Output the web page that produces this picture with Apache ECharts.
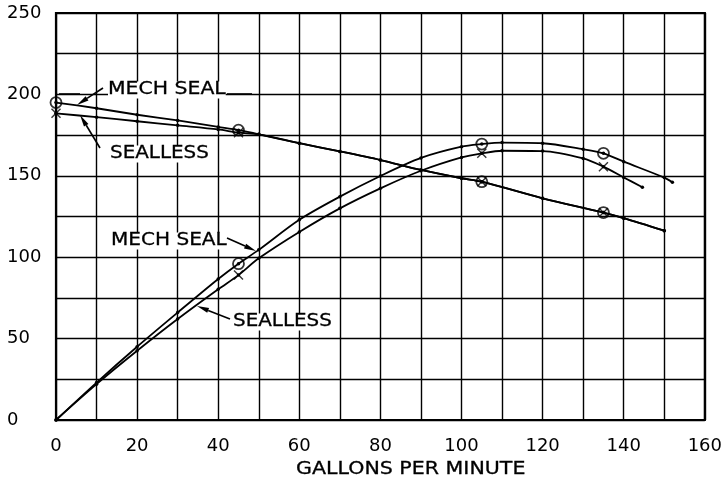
<!DOCTYPE html>
<html><head><meta charset="utf-8">
<script src="https://cdn.jsdelivr.net/npm/echarts@6/dist/echarts.min.js"></script>
<style>html,body{margin:0;padding:0;background:#fff}#c{width:725px;height:490px}</style>
</head><body><div id="c"></div>
<script>
// ---- data ----
const xLabelValues = [0, 20, 40, 60, 80, 100, 120, 140, 160];
const yLabelValues = [0, 50, 100, 150, 200, 250];
const xAxisTitle = 'GALLONS PER MINUTE';

// head curves (upper, falling)
const headMech = [[0,195],[10,191.5],[20,187.5],[30,184],[40,180],[45,178],[50,175.5],[60,170],[70,165],[80,159.7],[90,153.6],[100,148.5],[105,146.4],[120,136.2],[135,127.4],[140,124],[150,116.3]];
const headSealless = [[0,188.4],[10,186],[20,183.5],[30,181],[40,178.5],[45,176.5],[50,175.5],[60,170],[70,165],[80,159.7],[90,153.6],[100,148.5],[105,146.4],[120,136.2],[135,127.4],[140,124],[150,116.3]];
// rising curves
const effMech = [[0,0],[10,23],[20,45],[30,66],[40,86.6],[45,96],[50,104.5],[60,123],[70,137.2],[80,149.9],[90,161],[100,167.9],[105,169.5],[110,170.4],[120,170],[130,166.3],[135,163.8],[140,158.7],[150,148.9],[152,146]];
const effSealless = [[0,0],[10,22],[20,42.5],[30,62],[40,80.3],[45,89],[50,99.3],[60,115.5],[70,130],[80,142.3],[90,153.1],[100,161.3],[105,163.8],[110,165.4],[120,165.2],[130,160.7],[135,155.6],[140,149],[144.6,143]];
// test-point markers
const circlePoints = [[0,195],[45,178],[105,146.4],[135,127.4],[45,96],[105,169.5],[135,163.8]];
const crossPoints = [[0,188.4],[45,176.5],[105,146.4],[135,127.4],[45,89],[105,163.8],[135,155.6]];
const labelMech = 'MECH SEAL';
const labelSealless = 'SEALLESS';

// ---- chart ----
const FONT = '"DejaVu Sans", sans-serif';
const chart = echarts.init(document.getElementById('c'), null, {renderer: 'canvas'});
const lineStyle = {color: '#000', width: 1.8};
function lineSeries(data) {
  return {type: 'line', data, smooth: 0.3, symbol: 'circle', symbolSize: 3.5,
    itemStyle: {color: '#000'}, lineStyle, z: 3, animation: false};
}
const xPath = 'path://M0,1L1,0L5,4L9,0L10,1L6,5L10,9L9,10L5,6L1,10L0,9L4,5Z';

function arrow(x1, y1, x2, y2) {
  const dx = x2 - x1, dy = y2 - y1, L = Math.hypot(dx, dy);
  const ux = dx / L, uy = dy / L, hl = 12, hw = 2.6;
  const bx = x2 - ux * hl, by = y2 - uy * hl;
  return [
    {type: 'line', shape: {x1, y1, x2: bx, y2: by}, style: {stroke: '#000', lineWidth: 1.6}, z: 10},
    {type: 'polygon', shape: {points: [[x2, y2], [bx - uy * hw, by + ux * hw], [bx + uy * hw, by - ux * hw]]}, style: {fill: '#000'}, z: 10}
  ];
}
function label(text, x, y, sx) {
  return {type: 'text', x, y, scaleX: sx, z: 10,
    style: {text, font: '17px ' + FONT, fill: '#000', align: 'left', verticalAlign: 'middle',
      stroke: '#000', lineWidth: 0.3, backgroundColor: '#fff'}};
}
function dash(x1, x2, y) {
  return {type: 'line', shape: {x1, y1: y, x2, y2: y}, style: {stroke: '#000', lineWidth: 1.6}, z: 10};
}

const graphics = [
  label(labelMech, 108, 90, 1.2), dash(59, 80, 94), dash(227, 252, 94), ...arrow(103, 88, 77, 105),
  label(labelSealless, 110, 154, 1.17), ...arrow(100, 148, 80, 115),
  label(labelMech, 111, 241, 1.18), ...arrow(227, 238, 256, 251),
  label(labelSealless, 233, 322, 1.17), ...arrow(230, 319, 197, 306),
  {type: 'text', x: 296, y: 470, scaleX: 1.21, style: {text: xAxisTitle, font: '17px ' + FONT, fill: '#000', stroke: '#000', lineWidth: 0.3, align: 'left', verticalAlign: 'middle'}}
];

chart.setOption({
  animation: false,
  backgroundColor: '#fff',
  grid: {left: 56, right: 20, top: 13, bottom: 70, show: true, borderColor: '#000', borderWidth: 2.2, backgroundColor: 'transparent'},
  xAxis: {type: 'value', min: 0, max: 160, interval: 10,
    axisLine: {show: false}, axisTick: {show: false},
    splitLine: {show: true, lineStyle: {color: '#000', width: 1.4}},
    axisLabel: {margin: 17, color: '#000', fontFamily: FONT, fontSize: 18,
      formatter: v => xLabelValues.includes(v) ? String(v) : ''}},
  yAxis: {type: 'value', min: 0, max: 250, interval: 25,
    axisLine: {show: false}, axisTick: {show: false},
    splitLine: {show: true, lineStyle: {color: '#000', width: 1.4}},
    axisLabel: {margin: 49, align: 'left', color: '#000', fontFamily: FONT, fontSize: 18,
      formatter: v => yLabelValues.includes(v) ? String(v) : ''}},
  series: [
    lineSeries(headMech), lineSeries(headSealless), lineSeries(effMech), lineSeries(effSealless),
    {type: 'scatter', data: circlePoints, symbol: 'circle', symbolSize: 11, z: 5,
      itemStyle: {color: 'rgba(255,255,255,0)', borderColor: '#000', borderWidth: 1.8}},
    {type: 'scatter', data: crossPoints, symbol: xPath, symbolSize: 10, z: 5,
      itemStyle: {color: '#000'}}
  ],
  graphic: graphics
});
</script></body></html>
